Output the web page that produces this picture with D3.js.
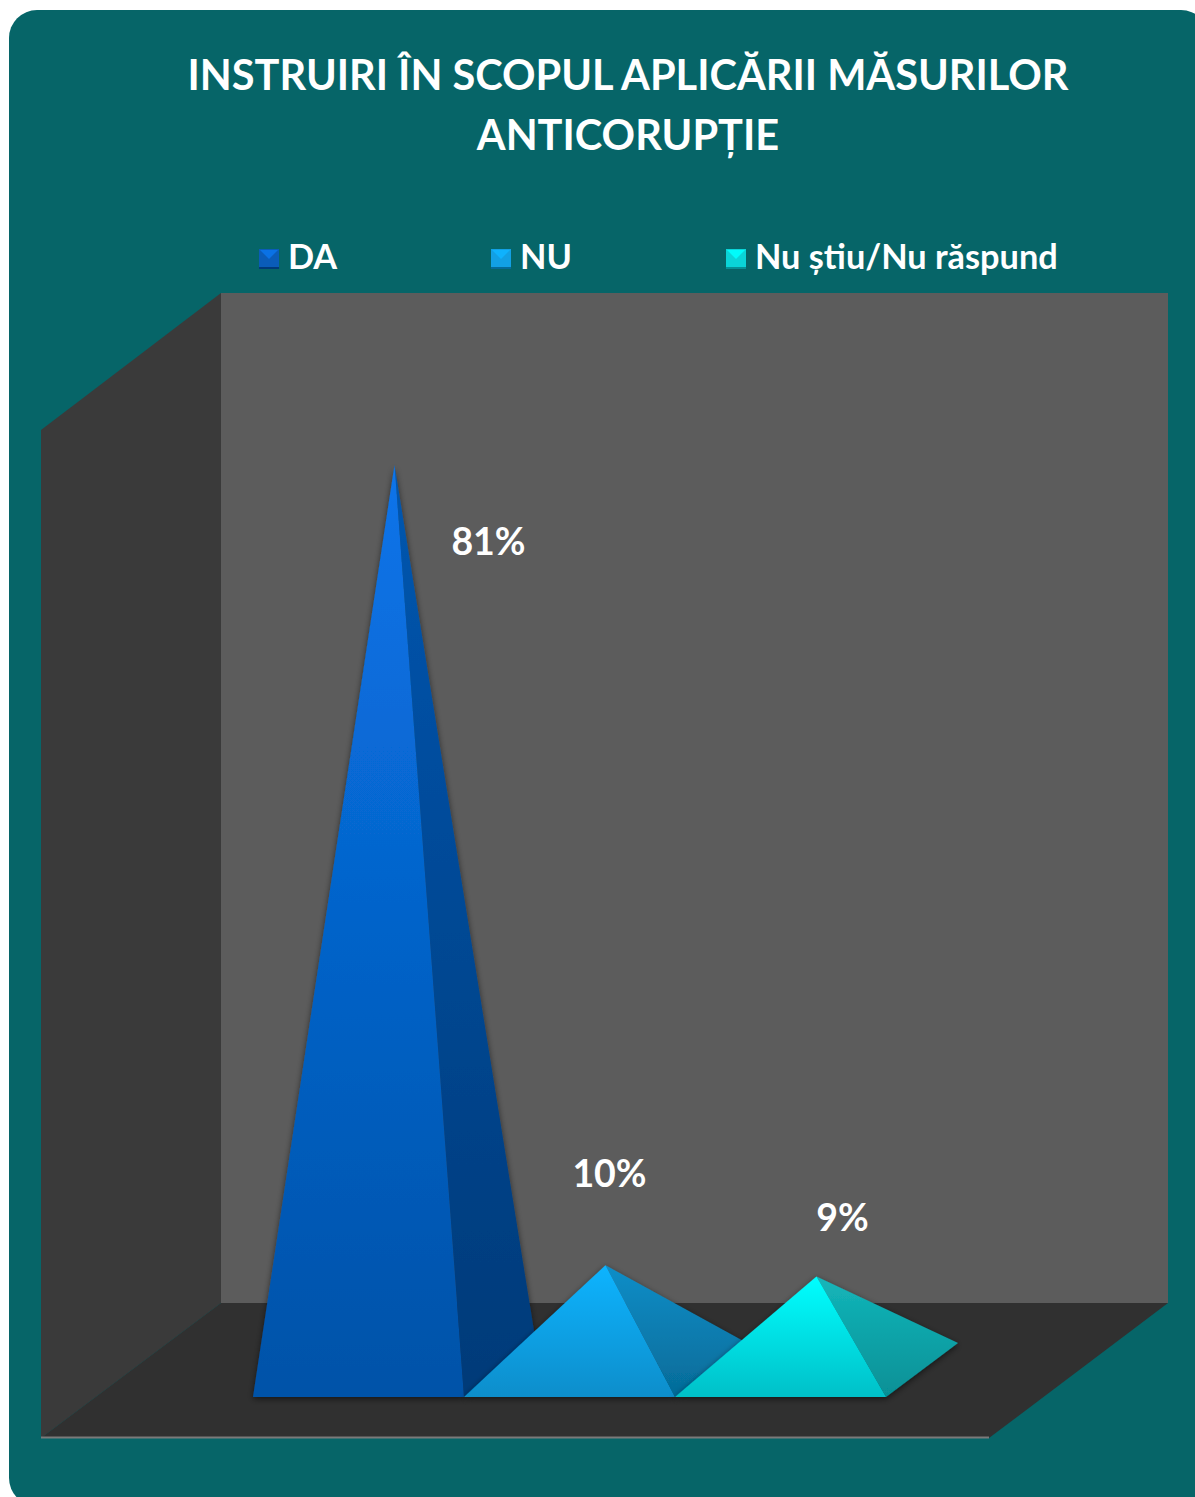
<!DOCTYPE html>
<html><head><meta charset="utf-8">
<script src="https://cdn.jsdelivr.net/npm/d3@7/dist/d3.min.js"></script>
<style>html,body{margin:0;padding:0;background:#fff;overflow:hidden}svg{display:block}text{font-family:Lato,"Open Sans",sans-serif;font-weight:700;fill:#fff}</style>
</head><body><script>
const categories = ["DA", "NU", "Nu știu/Nu răspund"];
const values = [81, 10, 9];
const valueLabels = ["81%", "10%", "9%"];
const titleLines = ["INSTRUIRI ÎN SCOPUL APLICĂRII MĂSURILOR", "ANTICORUPȚIE"];

const W = 1195, H = 1497;
const floorY = 1397, depth = {x: 72, y: -54};
const x = d3.scaleBand().domain(categories).range([253, 886]).paddingInner(0).paddingOuter(0);
const y = d3.scaleLinear().domain([0, 81]).range([1378, 465]);
const palette = [
  {front: ["#0a74ea", "#0052a8"], side: ["#0056b0", "#003a78"], mark: "#0a5cb8"},
  {front: ["#10b4ff", "#078ecb"], side: ["#0f8ec8", "#056b98"], mark: "#12a0e4"},
  {front: ["#00ffff", "#06c0c8"], side: ["#14b6ba", "#069096"], mark: "#0ad4d8"}
];
const svg = d3.select("body").append("svg").attr("width", W).attr("height", H);
const defs = svg.append("defs");
const grad = (id, c) => {
  const g = defs.append("linearGradient").attr("id", id).attr("x1", 0).attr("y1", 0).attr("x2", 0).attr("y2", 1);
  g.append("stop").attr("offset", 0).attr("stop-color", c[0]);
  g.append("stop").attr("offset", 1).attr("stop-color", c[1]);
};
palette.forEach((p, i) => { grad("f" + i, p.front); grad("s" + i, p.side); });
defs.append("filter").attr("id", "sh").attr("x", "-10%").attr("y", "-10%").attr("width", "120%").attr("height", "120%")
  .append("feDropShadow").attr("dx", 0).attr("dy", 2).attr("stdDeviation", 3).attr("flood-color", "#000").attr("flood-opacity", 0.55);

svg.append("rect").attr("x", 9).attr("y", 10).attr("width", 1200).attr("height", 1496).attr("rx", 28).attr("fill", "#066568");

const poly = pts => pts.map(p => p.join(",")).join(" ");
svg.append("polygon").attr("points", poly([[221, 293], [1168, 293], [1168, 1303], [221, 1303]])).attr("fill", "#5c5c5c");
svg.append("polygon").attr("points", poly([[41, 430], [221, 293], [221, 1303], [41, 1438]])).attr("fill", "#3a3a3a");
svg.append("polygon").attr("points", poly([[41, 1438], [221, 1303], [1168, 1303], [989, 1438]])).attr("fill", "#303030");
svg.append("line").attr("x1", 41).attr("x2", 989).attr("y1", 1437.5).attr("y2", 1437.5).attr("stroke", "#7a7a7a").attr("stroke-width", 2);

// pyramids
const marks = svg.append("g").selectAll("g").data(categories).join("g").attr("filter", "url(#sh)");
marks.each(function (c, i) {
  const g = d3.select(this), l = x(c), r = l + x.bandwidth();
  const apex = [(l + r) / 2 + depth.x / 2, y(values[i])];
  g.append("polygon").attr("points", poly([[r, floorY], [r + depth.x, floorY + depth.y], apex])).attr("fill", `url(#s${i})`);
  g.append("polygon").attr("points", poly([[l, floorY], [r, floorY], apex])).attr("fill", `url(#f${i})`);
});

// value labels, placed relative to each apex
const labelNudge = [[94, 90], [4, -78], [26, -46]];
svg.append("g").selectAll("text").data(categories).join("text")
  .attr("x", (c, i) => x(c) + x.bandwidth() / 2 + depth.x / 2 + labelNudge[i][0])
  .attr("y", (c, i) => y(values[i]) + labelNudge[i][1])
  .attr("text-anchor", "middle").attr("font-size", 37.5).text((c, i) => valueLabels[i]);

// title
svg.append("g").selectAll("text").data(titleLines).join("text")
  .attr("x", 628).attr("y", (d, i) => 90 + i * 60).attr("text-anchor", "middle")
  .attr("font-size", 41.5).text(d => d);

// legend
const legendX = [259, 491, 726], legendTextX = [288, 520, 755];
const lg = svg.append("g").selectAll("g").data(categories).join("g");
lg.each(function (c, i) {
  const g = d3.select(this), a = legendX[i], t = 249, s = 20, p = palette[i];
  const m = [a + s / 2, t + s / 2];
  g.append("rect").attr("x", a).attr("y", t).attr("width", s).attr("height", s).attr("fill", p.mark);
  g.append("polygon").attr("points", poly([[a + 1, t + 1], [a + s - 1, t + 1], m])).attr("fill", p.front[0]).attr("opacity", 0.9);
  g.append("rect").attr("x", a).attr("y", t + s - 2).attr("width", s).attr("height", 2).attr("fill", p.side[1]);
  g.append("text").attr("x", legendTextX[i]).attr("y", 269).attr("font-size", 34.3).text(c);
});
</script></body></html>
